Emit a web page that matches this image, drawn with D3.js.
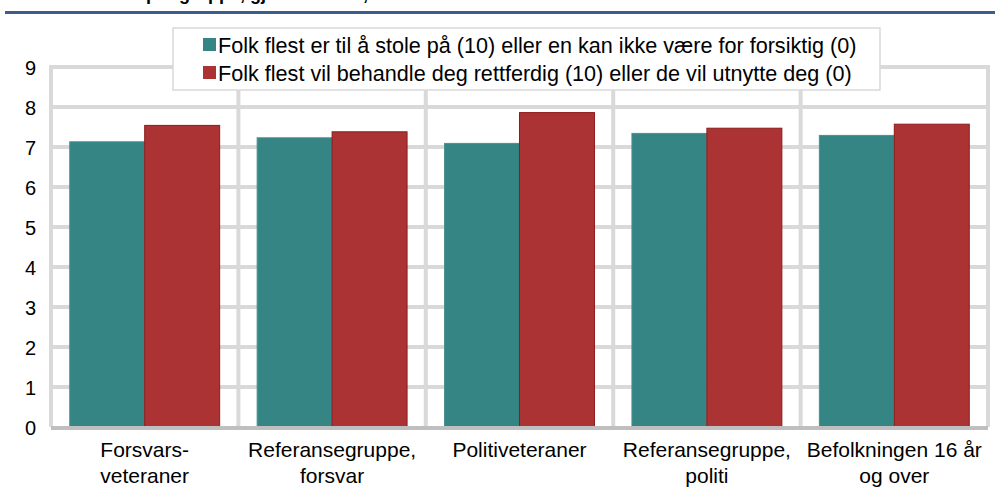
<!DOCTYPE html>
<html>
<head>
<meta charset="utf-8">
<script src="https://cdn.jsdelivr.net/npm/d3@7"></script>
<style>
  body { margin: 0; background: #fff; }
  text { font-family: "Liberation Sans", Arial, sans-serif; fill: #000; }
</style>
</head>
<body>
<div id="chart"></div>
<script>
// data
const categories = [
    ["Forsvars-", "veteraner"],
    ["Referansegruppe,", "forsvar"],
    ["Politiveteraner"],
    ["Referansegruppe,", "politi"],
    ["Befolkningen 16 år", "og over"]
];
const seriesNames = [
    "Folk flest er til å stole på (10) eller en kan ikke være for forsiktig (0)",
    "Folk flest vil behandle deg rettferdig (10) eller de vil utnytte deg (0)"
];
const stoleValues = [7.13, 7.23, 7.09, 7.34, 7.29];
const rettferdigValues = [7.54, 7.38, 7.86, 7.47, 7.57];
const yTicks = [0, 1, 2, 3, 4, 5, 6, 7, 8, 9];
const colors = ["#358585", "#ab3334"];
const strokes = ["#4a9090", "#8e1a1a"];

const svgWidth = 995,
    svgHeight = 491,
    margin = { top: 67, right: 7, bottom: 64, left: 51 },
    width = svgWidth - margin.left - margin.right,
    height = svgHeight - margin.top - margin.bottom;

let svgRoot = d3.select("#chart").append("svg")
    .attr("width", svgWidth)
    .attr("height", svgHeight);

// title (cut off at the top, as in the source) + header rule
svgRoot.append("text")
    .attr("x", 146)
    .attr("y", 0)
    .style("font-weight", "bold")
    .style("font-size", "18px")
    .text("per gruppe, gjennomsnitt, 0-10");
svgRoot.append("line")
    .attr("x1", 5).attr("x2", 995)
    .attr("y1", 12.5).attr("y2", 12.5)
    .attr("stroke", "#3e5c8c")
    .attr("stroke-width", 3);

let svg = svgRoot.append("g")
    .attr("transform", `translate(${margin.left},${margin.top})`);

// scales
let idx = d3.range(categories.length);
let xScale = d3.scaleBand()
    .domain(idx)
    .range([0, width])
    .padding(0);
let xInner = d3.scaleBand()
    .domain([0, 1])
    .range([0, xScale.bandwidth()])
    .paddingInner(0)
    .paddingOuter(0.25);
let yScale = d3.scaleLinear()
    .domain([0, 9])
    .range([height, 0]);

// grid
svg.append("g")
    .selectAll("line")
    .data(yTicks.slice(1))
    .join("line")
    .attr("x1", 0).attr("x2", width)
    .attr("y1", (d) => yScale(d)).attr("y2", (d) => yScale(d))
    .attr("stroke", "#d9d9d9")
    .attr("stroke-width", 4);
svg.append("g")
    .selectAll("line")
    .data(d3.range(categories.length + 1))
    .join("line")
    .attr("x1", (d) => d * xScale.step()).attr("x2", (d) => d * xScale.step())
    .attr("y1", yScale(9) - 2).attr("y2", height)
    .attr("stroke", "#d9d9d9")
    .attr("stroke-width", 4);

// bars
let groups = svg.selectAll("g.cat")
    .data(idx)
    .join("g")
    .attr("class", "cat")
    .attr("transform", (d) => `translate(${xScale(d)},0)`);
groups.selectAll("rect")
    .data((i) => [stoleValues[i], rettferdigValues[i]].map((v, s) => ({ v: v, s: s })))
    .join("rect")
    .attr("x", (d) => xInner(d.s))
    .attr("y", (d) => yScale(d.v))
    .attr("width", xInner.bandwidth())
    .attr("height", (d) => height - yScale(d.v))
    .attr("fill", (d) => colors[d.s])
    .attr("stroke", (d) => strokes[d.s])
    .attr("stroke-width", 1);

// bottom axis line
svg.append("line")
    .attr("x1", 0).attr("x2", width)
    .attr("y1", height + 1).attr("y2", height + 1)
    .attr("stroke", "#bfbfbf")
    .attr("stroke-width", 4);

// y axis labels
let yAxis = svg.append("g")
    .call(d3.axisLeft(yScale).tickValues(yTicks).tickSize(0).tickPadding(15));
yAxis.select(".domain").remove();
yAxis.selectAll("text")
    .style("font-size", "20px")
    .attr("dy", "0.36em");

// x labels
let xLabels = svg.append("g")
    .selectAll("text")
    .data(idx)
    .join("text")
    .attr("text-anchor", "middle")
    .attr("x", (d) => xScale(d) + xScale.bandwidth() / 2)
    .attr("y", height + 30)
    .style("font-size", "21px");
xLabels.selectAll("tspan")
    .data((d) => categories[d])
    .join("tspan")
    .attr("x", function () { return d3.select(this.parentNode).attr("x"); })
    .attr("dy", (d, i) => i === 0 ? 0 : 26)
    .text((d) => d);

// legend
let legend = svgRoot.append("g")
    .attr("transform", "translate(173,28)");
legend.append("rect")
    .attr("width", 707)
    .attr("height", 62)
    .attr("fill", "#fff")
    .attr("stroke", "#d9d9d9")
    .attr("stroke-width", 1.5);
let items = legend.selectAll("g.item")
    .data(seriesNames)
    .join("g")
    .attr("class", "item")
    .attr("transform", (d, i) => `translate(30,${17 + i * 28})`);
items.append("rect")
    .attr("x", 0).attr("y", -7)
    .attr("width", 13).attr("height", 13)
    .attr("fill", (d, i) => colors[i]);
items.append("text")
    .attr("x", 15)
    .attr("y", 0)
    .attr("dy", "0.35em")
    .style("font-size", "21.6px")
    .text((d) => d);
</script>
</body>
</html>
